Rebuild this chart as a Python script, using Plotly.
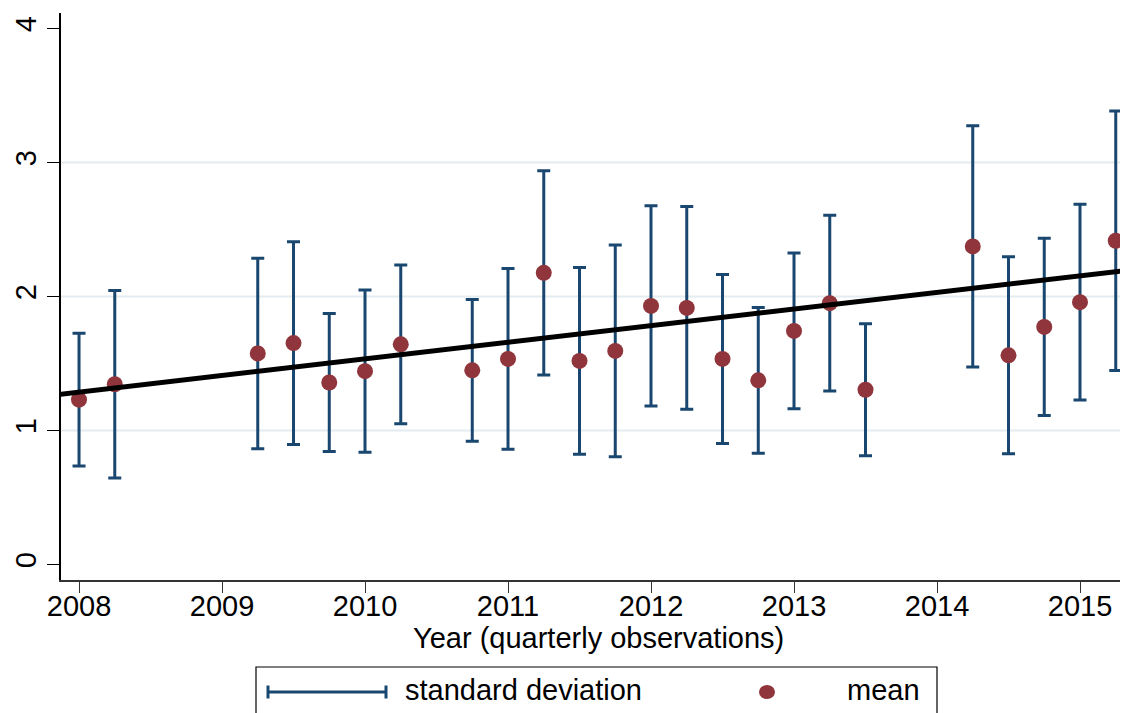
import plotly.graph_objects as go

# ---- data ----
quarters = [2008.00, 2008.25, 2009.25, 2009.50, 2009.75, 2010.00, 2010.25,
            2010.75, 2011.00, 2011.25, 2011.50, 2011.75, 2012.00, 2012.25,
            2012.50, 2012.75, 2013.00, 2013.25, 2013.50, 2014.25, 2014.50,
            2014.75, 2015.00, 2015.25]
means = [1.23, 1.345, 1.575, 1.652, 1.358, 1.443, 1.643,
         1.449, 1.534, 2.177, 1.519, 1.594, 1.930, 1.915,
         1.534, 1.374, 1.743, 1.950, 1.304, 2.374, 1.561,
         1.773, 1.958, 2.416]
sds = [0.495, 0.70, 0.711, 0.757, 0.515, 0.606, 0.593,
       0.529, 0.675, 0.762, 0.697, 0.790, 0.747, 0.757,
       0.631, 0.544, 0.581, 0.656, 0.493, 0.901, 0.735,
       0.662, 0.731, 0.969]
# linear fit: value at 2008 and slope per year
fit_at_2008 = 1.286
fit_slope = 0.124
x_ticks = [2008, 2009, 2010, 2011, 2012, 2013, 2014, 2015]
y_ticks = [0, 1, 2, 3, 4]
grid_vals = [1, 2, 3]

NAVY = "#1a476f"
MAROON = "#90353b"
FONT = "Liberation Sans, Arial, sans-serif"
FS = 29

# the page places the figure 8px from the top-left corner (body margin)
OFF = 8
W, H = 1128, 713
L, R, T, B = 61 - OFF, 0, 13 - OFF, H - (580 - OFF)
PW, PH = W - L - R, H - T - B


def px(xs):
    """screen x -> paper x"""
    return (xs - OFF - L) / PW


def py(ys):
    """screen y -> paper y"""
    return (H - B - (ys - OFF)) / PH


fig = go.Figure()

fig.add_trace(go.Scatter(
    x=quarters, y=means, mode="markers",
    marker=dict(color=MAROON, size=16),
    error_y=dict(type="data", array=sds, symmetric=True,
                 color=NAVY, thickness=3, width=6.5),
    name="mean", showlegend=False, cliponaxis=False,
))

fit_x = [2007.80, 2015.50]
fit_y = [fit_at_2008 + fit_slope * (x - 2008) for x in fit_x]
fig.add_trace(go.Scatter(
    x=fit_x, y=fit_y, mode="lines",
    line=dict(color="black", width=5), showlegend=False, name="fit",
))

shapes = []
for g in grid_vals:
    shapes.append(dict(type="line", xref="paper", yref="y", x0=0, x1=1,
                       y0=g, y1=g, layer="below",
                       line=dict(color="#e3ecef", width=2)))

# manual legend (Stata style)
shapes.append(dict(type="rect", xref="paper", yref="paper",
                   x0=px(256), x1=px(937), y0=py(667), y1=py(730),
                   line=dict(color="black", width=1.2), fillcolor="rgba(0,0,0,0)"))
ly = 692
shapes.append(dict(type="line", xref="paper", yref="paper",
                   x0=px(268), x1=px(386), y0=py(ly), y1=py(ly),
                   line=dict(color=NAVY, width=3)))
for cx in (268, 386):
    shapes.append(dict(type="line", xref="paper", yref="paper",
                       x0=px(cx), x1=px(cx), y0=py(ly - 6.5), y1=py(ly + 6.5),
                       line=dict(color=NAVY, width=3)))
shapes.append(dict(type="circle", xref="paper", yref="paper",
                   x0=px(759), x1=px(775), y0=py(685), y1=py(699),
                   fillcolor=MAROON, line=dict(color=MAROON, width=0)))

annotations = [
    dict(text="standard deviation", xref="paper", yref="paper",
         x=px(403), y=py(690), xanchor="left", yanchor="middle",
         showarrow=False, font=dict(family=FONT, size=FS, color="black")),
    dict(text="mean", xref="paper", yref="paper",
         x=px(922), y=py(690), xanchor="right", yanchor="middle",
         showarrow=False, font=dict(family=FONT, size=FS, color="black")),
    dict(text="Year (quarterly observations)", xref="paper", yref="paper",
         x=px(598), y=py(638), xanchor="center", yanchor="middle",
         showarrow=False, font=dict(family=FONT, size=FS, color="black")),
]

x_right = 2008 + ((OFF + W) - 79) / 143.0

fig.update_layout(
    width=W, height=H,
    margin=dict(l=L, r=R, t=T, b=B, pad=0, autoexpand=False),
    paper_bgcolor="white", plot_bgcolor="white",
    font=dict(family=FONT, size=FS, color="black"),
    shapes=shapes, annotations=annotations,
    showlegend=False,
    xaxis=dict(
        range=[2007.874, x_right],
        tickvals=x_ticks, ticktext=[str(v) for v in x_ticks],
        ticks="outside", ticklen=11, tickwidth=1.2, tickcolor="#333333",
        showline=True, linecolor="#333333", linewidth=1.5,
        showgrid=False, zeroline=False, automargin=False,
        ticklabelstandoff=-12,
        tickfont=dict(family=FONT, size=FS, color="black"),
    ),
    yaxis=dict(
        range=[-0.116, 4.116],
        tickvals=y_ticks, ticktext=[str(v) for v in y_ticks],
        tickangle=-90,
        ticks="outside", ticklen=12, tickwidth=1.2, tickcolor="black",
        showline=True, linecolor="black", linewidth=1.5,
        showgrid=False, zeroline=False, automargin=False,
        ticklabelstandoff=0,
        tickfont=dict(family=FONT, size=FS, color="black"),
    ),
)

fig.write_html("out.html")
